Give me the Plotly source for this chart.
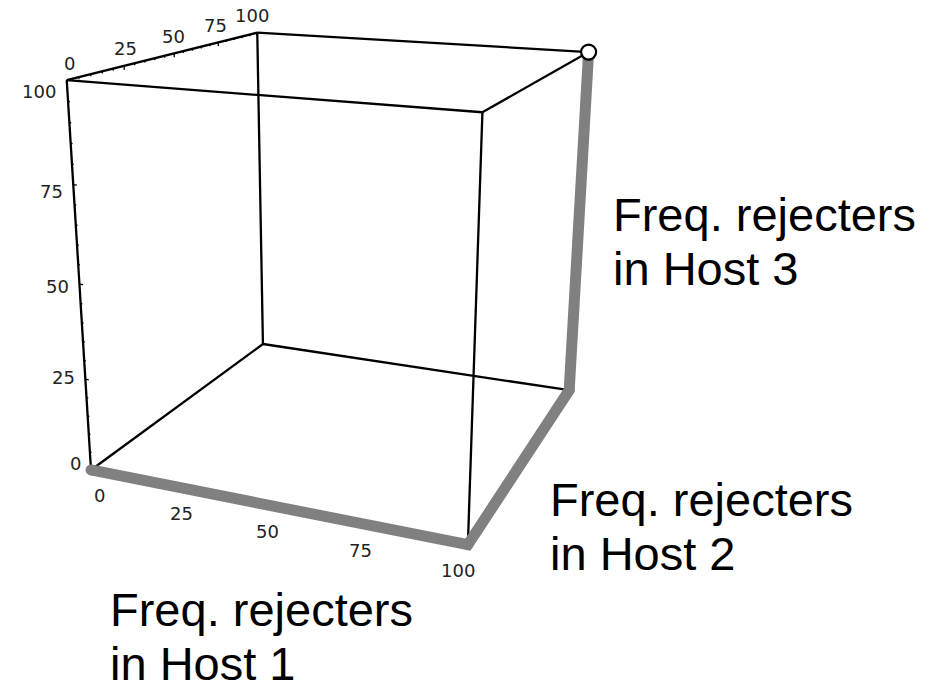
import numpy as np
import itertools
import plotly.graph_objects as go

# ---------------- data ----------------
major_ticks = [0, 25, 50, 75, 100]
minor_ticks = [v for v in range(0, 101, 5) if v % 25 != 0]
tick_labels = ["0", "25", "50", "75", "100"]
path_host1 = [0, 100, 100, 100]
path_host2 = [0, 0, 100, 100]
path_host3 = [0, 0, 0, 100]
title_host1 = ["Freq. rejecters", "in Host 1"]
title_host2 = ["Freq. rejecters", "in Host 2"]
title_host3 = ["Freq. rejecters", "in Host 3"]
box_lo, box_hi = 0, 100

# ---------------- view (perspective camera, data scaled to unit cube -> pixels) ----------------
CAMERA = np.array([
    [327.544, 241.712, -30.2351, 91.006],
    [17.3425, -34.641, -396.959, 469.968],
    [-0.105406, 0.265435, -0.0896579, 1.0],
])


def proj(x, y, z):
    x = np.asarray(x, float) / 100; y = np.asarray(y, float) / 100; z = np.asarray(z, float) / 100
    P = CAMERA
    u = P[0, 0]*x + P[0, 1]*y + P[0, 2]*z + P[0, 3]
    v = P[1, 0]*x + P[1, 1]*y + P[1, 2]*z + P[1, 3]
    w = P[2, 0]*x + P[2, 1]*y + P[2, 2]*z + P[2, 3]
    return u / w, v / w


fig = go.Figure()

# cube edges
corners = list(itertools.product([box_lo, box_hi], repeat=3))
ex, ey = [], []
for a, c in itertools.combinations(corners, 2):
    if sum(1 for i in range(3) if a[i] != c[i]) == 1:
        xs, ys = proj([a[0], c[0]], [a[1], c[1]], [a[2], c[2]])
        ex += list(xs) + [None]; ey += list(ys) + [None]
fig.add_trace(go.Scatter(x=ex, y=ey, mode="lines", line=dict(color="black", width=2.3), hoverinfo="skip"))

# ticks
tx, ty = [], []
for t in major_ticks + minor_ticks:
    L = 1.0 if t in major_ticks else 0.5
    # Host 2 axis (top-left edge): ticks point downward (-z)
    xs, ys = proj([0, 0], [t, t], [100, 100 - L]); tx += list(xs) + [None]; ty += list(ys) + [None]
    # Host 3 axis (left vertical edge): ticks along +x
    xs, ys = proj([0, L], [0, 0], [t, t]); tx += list(xs) + [None]; ty += list(ys) + [None]
    # Host 1 axis (front bottom edge): ticks along +y
    xs, ys = proj([t, t], [0, L], [0, 0]); tx += list(xs) + [None]; ty += list(ys) + [None]
fig.add_trace(go.Scatter(x=tx, y=ty, mode="lines", line=dict(color="black", width=1.3), hoverinfo="skip"))

# thick gray path
px, py = proj(path_host1, path_host2, path_host3)
fig.add_trace(go.Scatter(x=px, y=py, mode="lines", line=dict(color="#808080", width=11), hoverinfo="skip"))
fig.add_trace(go.Scatter(x=px[:1], y=py[:1], mode="markers",
                         marker=dict(color="#808080", size=11, line=dict(width=0)), hoverinfo="skip"))
fig.add_trace(go.Scatter(x=px[1:3], y=py[1:3], mode="markers",
                         marker=dict(color="#808080", size=11, line=dict(width=0)), hoverinfo="skip"))
fig.add_trace(go.Scatter(x=px[-1:], y=py[-1:], mode="markers",
                         marker=dict(color="white", size=15, line=dict(color="black", width=2.2)), hoverinfo="skip"))

TF = dict(family="DejaVu Sans", size=18, color="#222222")
ann = []
for t, lab in zip(major_ticks, tick_labels):
    x0, y0 = proj(t, 0, 0)
    ann.append(dict(x=float(x0) + 8 - 0.18 * t, y=float(y0) + 26, text=lab,
                    xanchor="center", yanchor="middle", font=TF))
    x1, y1 = proj(0, t, 100)
    ann.append(dict(x=float(x1) + 3.2 - 0.08 * t, y=float(y1) - 17, text=lab,
                    xanchor="center", yanchor="middle", font=TF))
    x2, y2 = proj(0, 0, t)
    ann.append(dict(x=float(x2) - 8.3, y=float(y2) - 6 + 0.173 * t, text=lab,
                    xanchor="right", yanchor="middle", font=TF))

BF = dict(family="Liberation Sans, Arial", size=47, color="black")
for (lx, ly), lines in zip([(107.5, 609.7), (547.5, 499.7), (610.5, 214.7)],
                           [title_host1, title_host2, title_host3]):
    for i, s in enumerate(lines):
        ann.append(dict(x=lx, y=ly + i * 53.3, text=s, xanchor="left", yanchor="middle", font=BF))

for a in ann:
    a.update(xref="x", yref="y", showarrow=False)

fig.update_layout(width=942, height=688, autosize=False, margin=dict(l=0, r=0, t=0, b=0),
                  paper_bgcolor="white", plot_bgcolor="white", showlegend=False, annotations=ann,
                  xaxis=dict(range=[0, 942], visible=False, fixedrange=True),
                  yaxis=dict(range=[688, 0], visible=False, fixedrange=True))
fig.write_html("out.html")
